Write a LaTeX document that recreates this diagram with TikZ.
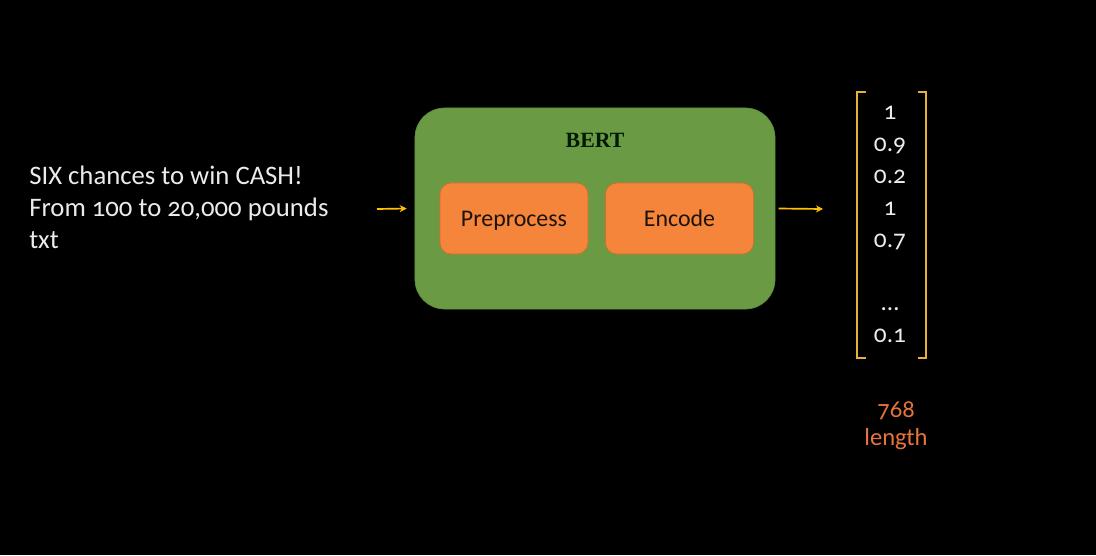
\documentclass[tikz,border=0pt]{standalone}
\usepackage{fontspec}
\setmainfont{Carlito}[Numbers=OldStyle]
\newfontfamily\bertfont{Liberation Serif}
\usetikzlibrary{arrows.meta}
\definecolor{bertgreen}{HTML}{6A9B44}
\definecolor{bertedge}{HTML}{5A8A3A}
\definecolor{steporange}{HTML}{F4853A}
\definecolor{stepedge}{HTML}{D8682A}
\definecolor{flowyellow}{HTML}{FFC000}
\definecolor{brackgold}{HTML}{E6B03A}
\definecolor{lenorange}{HTML}{E8743C}
\tikzset{
  flow/.style={draw=flowyellow, line width=1.2pt, -{Stealth[length=5pt,width=5pt]}},
  bertbox/.style={draw=bertedge, fill=bertgreen, rounded corners=21pt,
    minimum width=9cm, minimum height=5.025cm, inner sep=0},
  stepbox/.style={draw=stepedge, fill=steporange, rounded corners=8pt,
    minimum width=3.7cm, minimum height=1.775cm, inner sep=0,
    text height=1.1em, text depth=0em,
    text=black!85!brown, font=\fontsize{17}{20}\selectfont},
  val/.style={text=white!92!black, inner sep=0, text height=0.95em, text depth=0em,
    font=\fontsize{18}{21}\selectfont},
  brack/.style={draw=brackgold, line width=1.4pt}
}
\begin{document}
\begin{tikzpicture}[x=0.025cm,y=-0.025cm]
\fill[black] (0,0) rectangle (1096,555);
\useasboundingbox (0,0) rectangle (1096,555);

% input message
\node[anchor=west, align=left, inner sep=0, text=white!92!black,
  font=\fontsize{19}{22.7}\selectfont] (msg) at (29,207)
  {SIX chances to win CASH!\\From 100 to 20,000 pounds\\txt};

% BERT block
\node[bertbox] (bert) at (595,208.5) {};
\node[font=\bertfont\bfseries\fontsize{15.5}{18}\selectfont, text=black!90!green]
  (title) at (595,140) {BERT};
\node[stepbox] (prep) at (514,218.5) {Preprocess};
\node[stepbox] (enc) at (679.5,218.5) {Encode};

% arrows
\coordinate (in0) at (377,209);
\coordinate (out1) at (823,209);
\draw[flow] (in0) -- ([xshift=-0.2cm]bert.west);
\draw[flow] ([xshift=0.08cm]bert.east) -- (out1);

% output vector
\foreach \v/\y [count=\i] in {1/113, 0.9/145, 0.2/177, 1/209, 0.7/241, {\dots}/304, 0.1/336}
  \node[val] (v\i) at (890,\y) {\v};
\draw[brack] (866,92) -- (857,92) -- (857,358) -- (866,358);
\draw[brack] (918,92) -- (926,92) -- (926,358) -- (918,358);

\node[align=center, text=lenorange, inner sep=0,
  font=\fontsize{17.5}{20}\selectfont] (len) at (896,426) {768\\length};
\end{tikzpicture}
\end{document}
